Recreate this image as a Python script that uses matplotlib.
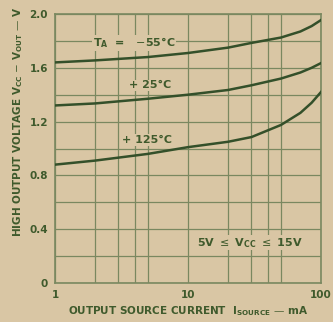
import numpy as np
import matplotlib.pyplot as plt

# (source current in mA, voltage drop in V)
current_ma = [1, 2, 5, 10, 20, 30, 50, 70, 85, 100]
vdrop_m55 = [1.64, 1.655, 1.68, 1.71, 1.75, 1.785, 1.825, 1.87, 1.91, 1.955]
vdrop_25 = [1.32, 1.335, 1.37, 1.40, 1.435, 1.47, 1.52, 1.565, 1.60, 1.635]
vdrop_125 = [0.88, 0.91, 0.96, 1.01, 1.05, 1.085, 1.175, 1.265, 1.34, 1.42]

x_ticks = [1, 10, 100]
x_grid = [1, 2, 3, 4, 5, 10, 20, 30, 40, 50, 100]
y_ticks = [0, 0.4, 0.8, 1.2, 1.6, 2.0]
y_grid = np.arange(0, 2.01, 0.2)

bg = '#d9c6a4'
ink = '#3f5a2c'
grid_c = '#7a8860'

fig = plt.figure(figsize=(3.33, 3.22), dpi=100, facecolor=bg)
ax = fig.add_axes([55/333, 1 - 283/322, 266/333, 269/322], facecolor=bg)

ax.set_xscale('log')
ax.set_xlim(1, 100)
ax.set_ylim(0, 2.0)

for gx in x_grid:
    ax.axvline(gx, color=grid_c, lw=0.9, zorder=1)
for gy in y_grid:
    ax.axhline(gy, color=grid_c, lw=0.9, zorder=1)

for ys in (vdrop_m55, vdrop_25, vdrop_125):
    ax.plot(current_ma, ys, color='#34502a', lw=1.8, zorder=3)

for s in ax.spines.values():
    s.set_color(grid_c)
    s.set_linewidth(1.2)

ax.set_xticks(x_ticks)
ax.set_xticklabels(['1', '10', '100'])
ax.set_xticks([], minor=True)
ax.set_yticks(y_ticks)
ax.set_yticklabels(['0', '0.4', '0.8', '1.2', '1.6', '2.0'])
ax.tick_params(length=0, colors=ink, labelsize=7.5, pad=5)
for lab in ax.get_xticklabels() + ax.get_yticklabels():
    lab.set_fontweight('bold')

tk = dict(color=ink, fontsize=8, fontweight='bold', zorder=4)
ax.text(1.92, 1.785, r'T$_\mathregular{A}$  =   $-$55°C', ha='left', va='center',
        bbox=dict(fc=bg, ec='none', pad=0.5), **tk)
ax.text(3.6, 1.47, '+ 25°C', ha='left', va='center',
        bbox=dict(fc=bg, ec='none', pad=0.5), **tk)
ax.text(3.2, 1.063, '+ 125°C', ha='left', va='center',
        bbox=dict(fc=bg, ec='none', pad=0.5), **tk)
ax.text(11.7, 0.30, r'5V $\leq$ V$_\mathregular{CC}$ $\leq$ 15V', ha='left', va='center',
        bbox=dict(fc=bg, ec='none', pad=0.5), **tk)

fig.text(188/333, 1 - 311/322, r'OUTPUT SOURCE CURRENT  I$_\mathregular{SOURCE}$ — mA',
         ha='center', va='center', color=ink, fontsize=7.5, fontweight='bold')
fig.text(18/333, 1 - 122/322, r'HIGH OUTPUT VOLTAGE V$_\mathregular{CC}$ $-$ V$_\mathregular{OUT}$ — V',
         ha='center', va='center', rotation=90, color=ink, fontsize=7.5, fontweight='bold')

fig.savefig('out.png', dpi=100, facecolor=bg)
